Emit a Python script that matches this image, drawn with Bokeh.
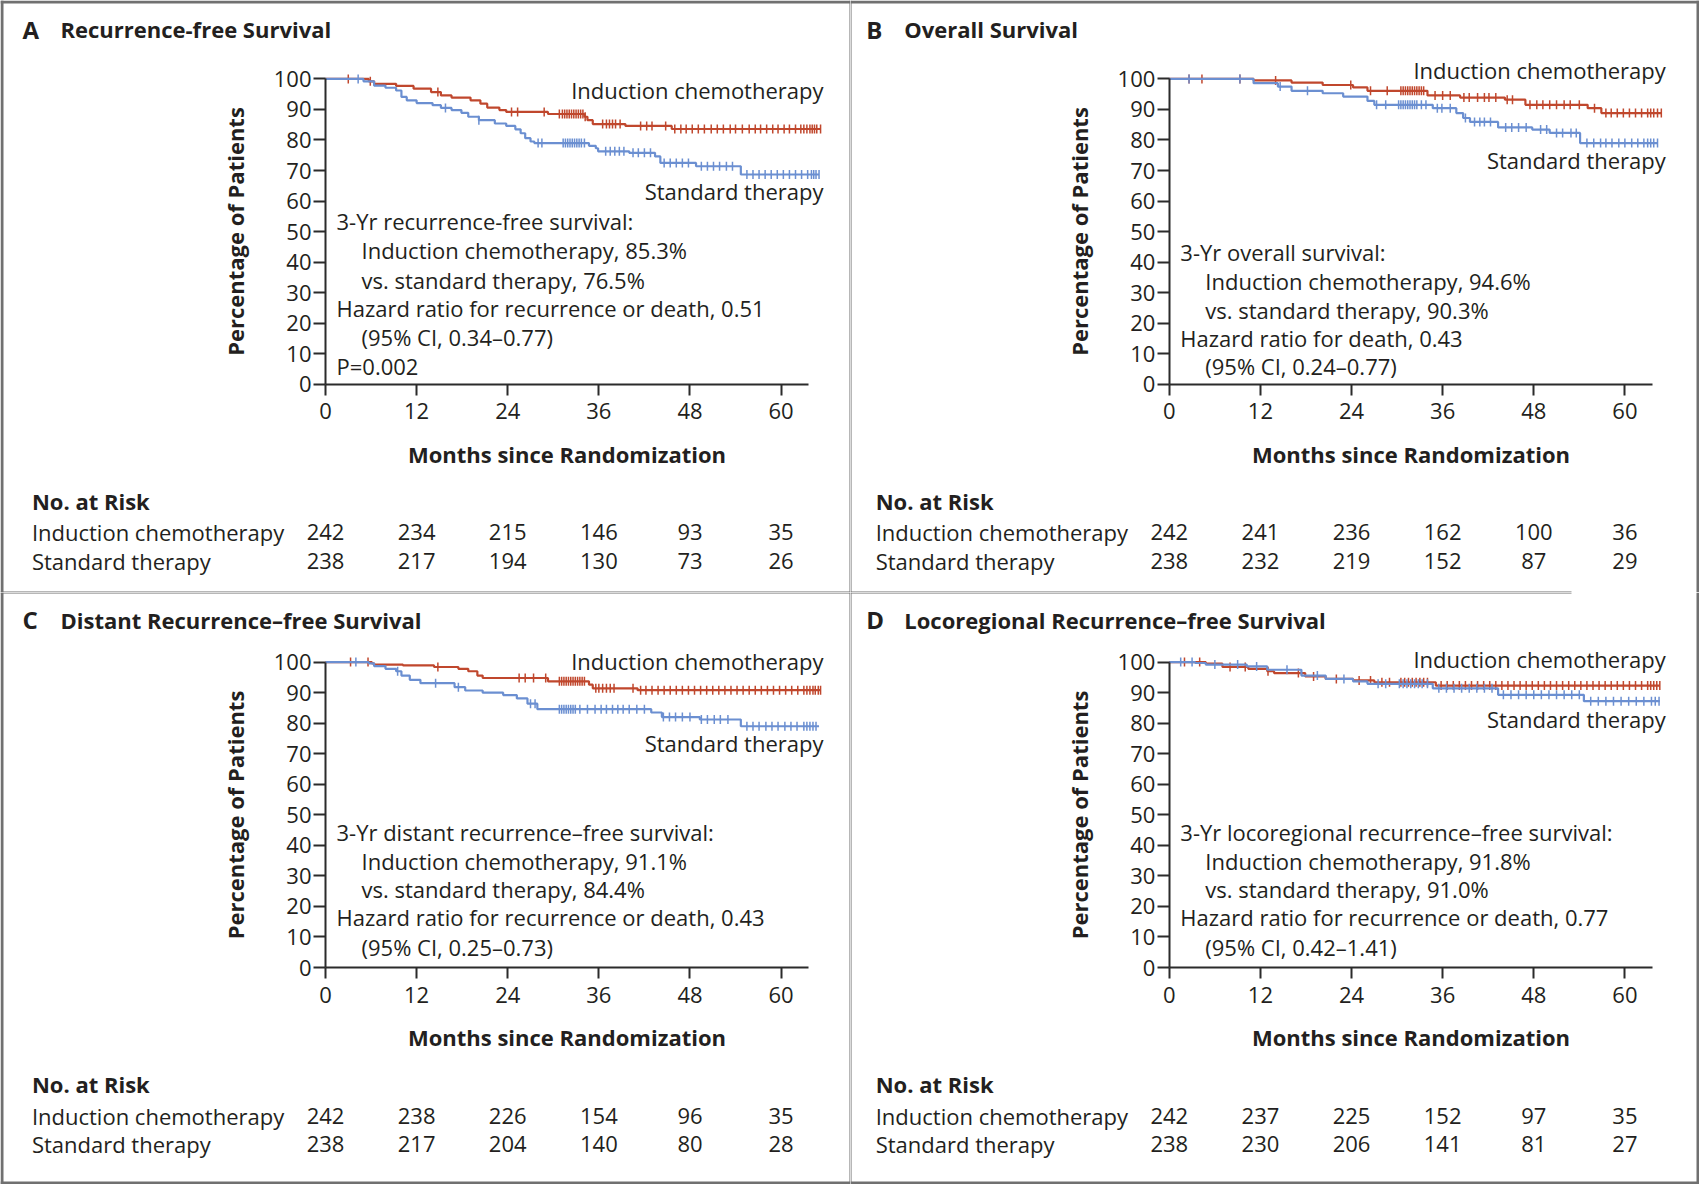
import numpy as np
from bokeh.plotting import figure
from bokeh.models import Range1d, FixedTicker
from bokeh.layouts import gridplot
from bokeh.core.properties import value
from bokeh.embed import file_html
from bokeh.resources import INLINE

RED = "#c0472d"
BLUE = "#6b8fd1"
TXT = "#231f20"
AX = "#2b2b2b"
BORDER = "#707070"
FONT = "Open Sans"

# ---------------- data ----------------
RISK_MONTHS = [0, 12, 24, 36, 48, 60]
X_TICKS = [0, 12, 24, 36, 48, 60]
Y_TICKS = [0, 10, 20, 30, 40, 50, 60, 70, 80, 90, 100]
GROUPS = ["Induction chemotherapy", "Standard therapy"]

# Panel A: recurrence-free survival
A_IND_T = [0, 5.7, 6.4, 9.3, 11.6, 13.9, 15.2, 16.6, 19.1, 20.4, 21.3, 22.9, 23.8, 29.3, 34.1, 34.5, 35.2, 39.5, 45.6]
A_IND_S = [100, 99.2, 98.4, 97.7, 96.8, 95.7, 94.6, 93.9, 93.0, 91.9, 90.6, 89.8, 89.2, 88.5, 87.6, 86.5, 85.2, 84.6, 83.6]
A_IND_END = 65.2
A_IND_CENS = [3.0, 5.9, 14.8, 24.5, 25.3, 28.8, 30.8, 31.2, 31.5, 31.8, 32.1, 32.4, 32.7, 33.0, 33.3, 33.6, 33.9,
              34.2, 36.5, 37.0, 37.4, 37.8, 38.2, 38.8, 41.5, 42.3, 43.0, 44.8, 46.0, 46.8, 47.5, 48.3, 49.1, 49.9,
              50.8, 51.6, 52.4, 53.3, 54.0, 54.9, 55.8, 56.6, 57.3, 58.1, 58.9, 59.6, 60.4, 61.1, 61.9, 62.6, 63.0,
              63.4, 63.8, 64.1, 64.4, 64.7, 65.2]
A_STD_T = [0, 5.0, 6.4, 7.9, 9.3, 10.0, 10.7, 12.0, 14.1, 15.2, 16.6, 17.9, 18.8, 20.2, 22.3, 23.8, 25.0, 25.7,
           26.3, 27.0, 27.5, 34.7, 35.6, 35.9, 40.0, 43.4, 44.1, 48.8, 54.7]
A_STD_S = [100, 99.2, 97.8, 97.1, 96.2, 94.1, 93.0, 92.1, 91.4, 90.5, 89.8, 88.9, 87.6, 86.5, 85.4, 84.6, 83.5, 82.2,
           80.6, 79.5, 79.0, 78.1, 77.3, 76.3, 75.8, 74.6, 72.5, 71.4, 68.7]
A_STD_END = 65.0
A_STD_CENS = [4.3, 15.8, 20.2, 28.0, 28.5, 31.3, 31.6, 31.9, 32.2, 32.5, 32.8, 33.1, 33.4, 33.7, 34.1, 36.9, 37.5,
              38.1, 38.7, 39.3, 40.5, 41.2, 42.0, 42.8, 44.6, 45.4, 46.2, 47.0, 47.8, 49.5, 50.3, 51.1, 51.9, 52.8,
              53.6, 55.5, 56.3, 57.1, 57.9, 58.7, 59.5, 60.3, 61.1, 61.9, 62.7, 63.5, 64.0, 64.3, 64.6, 65.0]
A_RISK_IND = [242, 234, 215, 146, 93, 35]
A_RISK_STD = [238, 217, 194, 130, 73, 26]

# Panel B: overall survival
B_IND_T = [0, 11.1, 16.1, 20.2, 24.2, 26.1, 34.0, 38.3, 44.2, 46.9, 55.1, 56.9]
B_IND_S = [100, 99.5, 98.8, 98.0, 97.2, 96.1, 94.6, 93.9, 93.2, 91.5, 90.4, 88.8]
B_IND_END = 64.8
B_IND_CENS = [2.6, 4.3, 9.3, 14.0, 23.9, 26.5, 28.7, 30.5, 30.8, 31.1, 31.4, 31.7, 32.0, 32.3, 32.6, 32.9, 33.2,
              33.5, 35.0, 36.0, 37.0, 38.8, 39.5, 40.6, 41.5, 42.1, 43.0, 44.5, 45.2, 47.5, 48.4, 49.2, 50.1, 51.0,
              52.0, 52.8, 54.0, 56.0, 57.5, 58.2, 59.0, 59.8, 60.6, 61.4, 62.2, 63.0, 63.4, 63.8, 64.3, 64.8]
B_STD_T = [0, 11.1, 14.3, 16.1, 20.2, 22.9, 26.1, 27.0, 34.7, 37.8, 38.7, 39.6, 43.3, 47.8, 50.1, 54.1]
B_STD_S = [100, 98.6, 97.5, 96.1, 95.3, 94.2, 92.8, 91.5, 90.4, 88.8, 87.2, 85.9, 84.1, 83.4, 82.3, 79.0]
B_STD_END = 64.3
B_STD_CENS = [2.6, 9.3, 14.6, 18.2, 27.3, 28.5, 30.2, 30.5, 30.8, 31.1, 31.4, 31.7, 32.0, 32.3, 32.6, 33.2, 33.8,
              35.3, 35.9, 37.0, 39.0, 40.2, 40.9, 41.5, 42.3, 44.3, 45.1, 46.0, 47.0, 48.9, 49.7, 51.0, 51.8, 52.9,
              53.6, 55.0, 55.9, 56.8, 57.5, 58.3, 59.2, 60.0, 60.9, 61.7, 62.5, 63.0, 63.4, 63.8, 64.3]
B_RISK_IND = [242, 241, 236, 162, 100, 36]
B_RISK_STD = [238, 232, 219, 152, 87, 29]

# Panel C: distant recurrence-free survival
C_IND_T = [0, 6.1, 6.4, 10.2, 14.3, 17.5, 18.8, 20.0, 20.7, 29.3, 34.7, 35.2, 41.1]
C_IND_S = [100, 99.6, 99.2, 98.9, 98.4, 97.8, 97.0, 95.6, 94.8, 93.7, 92.6, 91.4, 90.8]
C_IND_END = 65.2
C_IND_CENS = [3.3, 5.6, 14.8, 25.5, 26.3, 27.4, 29.0, 30.8, 31.1, 31.4, 31.7, 32.0, 32.3, 32.6, 32.9, 33.2, 33.5,
              33.8, 34.1, 35.6, 36.0, 36.5, 37.0, 37.5, 38.0, 40.5, 41.5, 42.2, 43.0, 43.8, 44.6, 45.4, 46.2, 47.0,
              47.8, 48.6, 49.4, 50.2, 51.0, 51.8, 52.6, 53.4, 54.2, 55.0, 55.8, 56.6, 57.4, 58.2, 59.0, 59.8, 60.6,
              61.4, 62.2, 63.0, 63.4, 63.8, 64.2, 64.5, 64.9, 65.2]
C_STD_T = [0, 5.7, 6.4, 7.9, 9.3, 10.0, 11.1, 12.5, 17.0, 18.4, 20.7, 23.4, 25.2, 26.6, 27.9, 42.9, 44.3, 49.3, 54.7]
C_STD_S = [100, 99.6, 98.7, 97.8, 97.0, 95.6, 94.2, 93.1, 91.8, 90.7, 90.0, 89.2, 88.1, 86.4, 84.6, 83.5, 82.0,
           81.2, 79.0]
C_STD_END = 65.0
C_STD_CENS = [4.0, 9.5, 14.5, 17.5, 27.0, 27.6, 30.8, 31.1, 31.4, 31.7, 32.0, 32.3, 32.6, 32.9, 33.5, 34.5, 35.5,
              36.3, 37.0, 37.8, 38.5, 39.2, 40.0, 41.0, 42.0, 44.5, 45.3, 46.1, 47.0, 48.0, 49.5, 50.3, 51.2, 52.0,
              53.0, 55.5, 56.3, 57.1, 58.0, 58.8, 59.6, 60.5, 61.3, 62.1, 63.0, 63.4, 63.8, 64.2, 64.6]
C_RISK_IND = [242, 238, 226, 154, 96, 35]
C_RISK_STD = [238, 217, 204, 140, 80, 28]

# Panel D: locoregional recurrence-free survival
D_IND_T = [0, 4.8, 7.0, 10.4, 12.9, 13.8, 17.9, 20.6, 24.2, 27.0, 35.1]
D_IND_S = [100, 99.5, 98.4, 97.8, 97.0, 96.4, 95.3, 94.5, 94.0, 93.4, 92.3]
D_IND_END = 64.6
D_IND_CENS = [2.0, 4.0, 8.0, 10.0, 13.0, 17.0, 19.0, 22.0, 25.0, 26.5, 28.0, 29.0, 30.5, 31.0, 31.5, 32.0, 32.5,
              33.0, 33.5, 34.0, 35.8, 36.6, 37.4, 38.2, 39.0, 39.8, 40.6, 41.4, 42.2, 43.0, 43.8, 44.6, 45.4, 46.2,
              47.0, 47.8, 48.6, 49.4, 50.2, 51.0, 51.8, 52.6, 53.4, 54.2, 55.0, 55.8, 56.6, 57.4, 58.2, 59.0, 59.8,
              60.6, 61.4, 62.2, 63.0, 63.4, 63.8, 64.2, 64.6]
D_STD_T = [0, 3.4, 4.8, 10.2, 12.9, 17.4, 20.6, 24.2, 26.1, 34.7, 43.3, 54.6]
D_STD_S = [100, 99.7, 99.2, 98.6, 97.5, 95.6, 94.5, 93.7, 92.9, 91.4, 89.3, 87.2]
D_STD_END = 64.6
D_STD_CENS = [1.5, 3.0, 6.0, 9.0, 11.5, 15.5, 19.5, 23.0, 27.5, 28.5, 30.3, 30.8, 31.3, 31.8, 32.3, 32.8, 33.3,
              34.0, 35.5, 36.5, 37.5, 38.5, 39.5, 40.5, 41.5, 42.5, 44.0, 45.0, 46.0, 47.0, 48.0, 49.0, 50.0, 51.0,
              52.0, 53.0, 54.0, 55.5, 56.5, 57.5, 58.5, 59.5, 60.5, 61.5, 62.5, 63.5, 64.0, 64.5]
D_RISK_IND = [242, 237, 225, 152, 97, 35]
D_RISK_STD = [238, 230, 206, 141, 81, 27]

A_NOTES = ["3-Yr recurrence-free survival:", "Induction chemotherapy, 85.3%", "vs. standard therapy, 76.5%",
           "Hazard ratio for recurrence or death, 0.51", "(95% CI, 0.34\u20130.77)", "P=0.002"]
B_NOTES = ["3-Yr overall survival:", "Induction chemotherapy, 94.6%", "vs. standard therapy, 90.3%",
           "Hazard ratio for death, 0.43", "(95% CI, 0.24\u20130.77)"]
C_NOTES = ["3-Yr distant recurrence\u2013free survival:", "Induction chemotherapy, 91.1%",
           "vs. standard therapy, 84.4%", "Hazard ratio for recurrence or death, 0.43", "(95% CI, 0.25\u20130.73)"]
D_NOTES = ["3-Yr locoregional recurrence\u2013free survival:", "Induction chemotherapy, 91.8%",
           "vs. standard therapy, 91.0%", "Hazard ratio for recurrence or death, 0.77", "(95% CI, 0.42\u20131.41)"]
A_INDENT = [0, 1, 1, 0, 1, 0]
BCD_INDENT = [0, 1, 1, 0, 1]

# ---------------- layout geometry (pixels) ----------------
XS = 7.593   # px per month
YS = 3.054   # px per percentage point
TSHIFT = 1.6  # small upward nudge for text glyphs (px)


def surv_at(T, S, t):
    i = int(np.searchsorted(np.asarray(T), t, side="right")) - 1
    return S[max(i, 0)]


def panel(letter, title, title_up, ind, std, risk_ind, risk_std, notes, indent, note_ups,
          lab_right, lab_ind_up, lab_std_up, geom, rects):
    PW, PH, ox, oy = geom

    def gx(px):  # px right of the y axis -> data x
        return px / XS

    def gy(py):  # px above the zero line -> data y
        return py / YS

    def ty(py):  # text position (nudged)
        return (py + TSHIFT) / YS

    p = figure(width=PW, height=PH,
               x_range=Range1d(gx(-ox), gx(PW - ox)), y_range=Range1d(gy(oy - PH), gy(oy)),
               output_backend="svg", toolbar_location=None, title=None, min_border=0)
    p.outline_line_color = None
    p.xgrid.visible = False
    p.ygrid.visible = False
    p.background_fill_color = "white"
    p.border_fill_color = "white"

    xa = p.xaxis[0]
    ya = p.yaxis[0]
    xa.fixed_location = 0
    ya.fixed_location = 0
    xa.ticker = FixedTicker(ticks=X_TICKS)
    xa.bounds = (0, 63.6)
    ya.ticker = FixedTicker(ticks=Y_TICKS)
    ya.bounds = (0, 100)
    for a in (xa, ya):
        a.axis_line_width = 2
        a.axis_line_color = AX
        a.major_tick_line_color = AX
        a.major_tick_line_width = 2
        a.major_tick_in = 0
        a.minor_tick_line_color = None
        a.major_label_text_font = FONT
        a.major_label_text_font_size = "22px"
        a.major_label_text_color = TXT
        a.axis_label_text_font = FONT
        a.axis_label_text_font_style = "bold"
        a.axis_label_text_color = TXT
        a.axis_label_text_font_size = "22px"
    xa.major_tick_out = 11
    xa.major_label_standoff = 8
    xa.axis_label = "Months since Randomization"
    xa.axis_label_standoff = 16
    ya.major_tick_out = 12
    ya.major_label_standoff = 2
    ya.axis_label = "Percentage of Patients"
    ya.axis_label_standoff = 21

    # panel frame lines (gray rules)
    for X0, X1, Y0, Y1 in rects:
        p.quad(left=gx(X0 - ox), right=gx(X1 - ox), top=gy(oy - Y0), bottom=gy(oy - Y1),
               fill_color=BORDER, line_color=None)

    for (T, S, end, cens), col in ((ind, RED), (std, BLUE)):
        p.step(x=list(T) + [end], y=list(S) + [S[-1]], mode="after", line_color=col, line_width=2.2)
        cy = [surv_at(T, S, t) for t in cens]
        p.scatter(x=cens, y=cy, marker="dash", angle=np.pi / 2, size=9, line_color=col,
                  line_width=1.5)

    def txt(xs, ys, texts, size="22px", bold=False, align="left"):
        p.text(x=xs, y=ys, text=texts, text_font=value(FONT), text_font_size=value(size),
               text_font_style="bold" if bold else "normal", text_align=align,
               text_baseline="middle", text_color=TXT)

    # title
    txt([gx(-303)], [ty(title_up)], [letter], size="24px", bold=True)
    txt([gx(-265)], [ty(title_up)], [title], bold=True)
    # curve labels
    txt([gx(lab_right)] * 2, [ty(lab_ind_up), ty(lab_std_up)], GROUPS, align="right")
    # notes
    txt([gx(11 + 25 * k) for k in indent], [ty(u) for u in note_ups], notes)
    # number at risk
    txt([gx(-293.6)], [ty(-118.2)], ["No. at Risk"], bold=True)
    txt([gx(-293.6)] * 2, [ty(-149.6), ty(-177.8)], GROUPS)
    txt(RISK_MONTHS, [ty(-149.6)] * len(RISK_MONTHS), [str(v) for v in risk_ind], align="center")
    txt(RISK_MONTHS, [ty(-177.8)] * len(RISK_MONTHS), [str(v) for v in risk_std], align="center")
    return p


pA = panel("A", "Recurrence-free Survival", 353.4,
           (A_IND_T, A_IND_S, A_IND_END, A_IND_CENS), (A_STD_T, A_STD_S, A_STD_END, A_STD_CENS),
           A_RISK_IND, A_RISK_STD, A_NOTES, A_INDENT, [161.5, 132.3, 103.0, 74.8, 45.5, 16.3],
           498, 292.7, 191.9, (850, 592, 325, 383.8),
           [(0, 850, 0, 3), (0, 3, 0, 592), (849, 850, 0, 592), (0, 850, 591, 592)])
pB = panel("B", "Overall Survival", 353.4,
           (B_IND_T, B_IND_S, B_IND_END, B_IND_CENS), (B_STD_T, B_STD_S, B_STD_END, B_STD_CENS),
           B_RISK_IND, B_RISK_STD, B_NOTES, BCD_INDENT, [131.2, 101.9, 72.6, 44.5, 16.3],
           496.5, 313.0, 222.3, (849, 592, 318.8, 383.8),
           [(0, 849, 0, 3), (846, 849, 0, 592), (0, 1, 0, 592), (0, 721, 591, 592)])
pC = panel("C", "Distant Recurrence\u2013free Survival", 346.0,
           (C_IND_T, C_IND_S, C_IND_END, C_IND_CENS), (C_STD_T, C_STD_S, C_STD_END, C_STD_CENS),
           C_RISK_IND, C_RISK_STD, C_NOTES, BCD_INDENT, [134.3, 105.0, 76.9, 48.7, 19.4],
           498, 304.6, 223.2, (850, 592, 325, 375.0),
           [(0, 850, 589, 592), (0, 3, 0, 592), (849, 850, 0, 592), (0, 850, 0, 1)])
pD = panel("D", "Locoregional Recurrence\u2013free Survival", 346.0,
           (D_IND_T, D_IND_S, D_IND_END, D_IND_CENS), (D_STD_T, D_STD_S, D_STD_END, D_STD_CENS),
           D_RISK_IND, D_RISK_STD, D_NOTES, BCD_INDENT, [134.3, 105.0, 76.9, 48.7, 19.4],
           496.5, 307.0, 247.0, (849, 592, 318.8, 375.0),
           [(0, 849, 589, 592), (846, 849, 0, 592), (0, 1, 0, 592), (0, 721, 0, 1)])

grid = gridplot([[pA, pB], [pC, pD]], toolbar_location=None)
open("out.html", "w").write(file_html(grid, INLINE))
